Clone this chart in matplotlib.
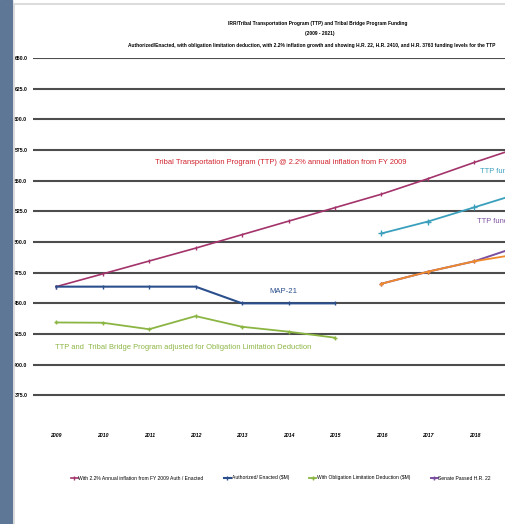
import matplotlib
matplotlib.use('Agg')
import matplotlib.pyplot as plt
from matplotlib.patches import Rectangle

plt.rcParams['font.family'] = ['Liberation Sans', 'DejaVu Sans']

# data ($M)
years = [2009, 2010, 2011, 2012, 2013, 2014, 2015, 2016, 2017, 2018, 2019, 2020, 2021]
inflation = [463.6, 474.0, 484.5, 495.0, 506.0, 517.0, 528.0, 539.0, 551.6, 564.9, 577.5, 590.0, 603.0]
map21_years = [2009, 2010, 2011, 2012, 2013, 2014, 2015]
enacted = [463.6, 463.6, 463.6, 463.6, 450.0, 450.0, 450.0]
oblim = [434.4, 434.2, 428.9, 439.6, 430.9, 426.9, 422.0]
new_years = [2016, 2017, 2018, 2019, 2020, 2021]
hr2410 = [507.0, 516.7, 528.3, 540.0, 551.0, 562.0]
senate_hr22 = [466.0, 475.8, 484.3, 497.0, 509.0, 521.0]
house_hr3763 = [466.0, 475.8, 484.3, 490.5, 497.0, 504.0]
yticks = [375, 400, 425, 450, 475, 500, 525, 550, 575, 600, 625, 650]

fig = plt.figure(figsize=(5.05, 5.24), dpi=100)
fig.patch.set_facecolor('white')

# dark strip on the left and the light chart-area border
fig.patches.append(Rectangle((0, 0), 12/505, 1, transform=fig.transFigure, color='#5f7797', zorder=0))
fig.patches.append(Rectangle((13.5/505, -0.1), 2, 1 - 4/524 + 0.1, transform=fig.transFigure,
                             fill=False, edgecolor='#d6d6d6', lw=1.2, zorder=0))

ax = fig.add_axes([33/505, 0.187, 604/505, 0.7023])
ax.set_xlim(2008.5, 2021.5)
ax.set_ylim(350, 650)
for s in ax.spines.values():
    s.set_visible(False)

for v in yticks:
    ax.axhline(v, color='#4d4d4d', lw=1.5, zorder=1)

ax.plot(years, inflation, color='#a3336b', lw=1.2, marker='|', ms=3, label='With 2.2% Annual inflation from FY 2009 Auth / Enacted', zorder=3)
ax.plot(map21_years, enacted, color='#2b4f8c', lw=1.5, marker='|', ms=3, label='Authorized/ Enacted ($M)', zorder=3)
ax.plot(map21_years, oblim, color='#8bb543', lw=1.3, marker='+', ms=3, label='With Obligation Limitation Deduction ($M)', zorder=3)
ax.plot(new_years, hr2410, color='#3a9fbd', lw=1.3, marker='+', ms=4, label='House Passed H.R. 2410', zorder=3)
ax.plot(new_years, senate_hr22, color='#7b4f9f', lw=1.4, marker='+', ms=3, label='Senate Passed H.R. 22', zorder=3)
ax.plot(new_years, house_hr3763, color='#f0892a', lw=1.3, marker='+', ms=3, label='House Passed H.R. 3763', zorder=4)

ax.set_xticks(years)
ax.set_xticklabels([str(y) for y in years], fontsize=3.7, fontweight='bold', style='italic')
ax.set_yticks(yticks)
ax.set_yticklabels([f"{v:.1f}" for v in yticks], fontsize=3.7, fontweight='bold')
ax.tick_params(axis='both', length=0)
ax.tick_params(axis='y', pad=4)
ax.tick_params(axis='x', pad=5)

ax.text(2011.13, 564.7, 'Tribal Transportation Program (TTP) @ 2.2% annual inflation from FY 2009',
        color='#d0202a', fontsize=5.4, va='center')
ax.text(2013.88, 460, 'MAP-21', color='#2b4f8c', fontsize=5.6, va='center', ha='center')
ax.text(2008.98, 413.6, 'TTP and  Tribal Bridge Program adjusted for Obligation Limitation Deduction',
        color='#8bb543', fontsize=5.4, va='center')
ax.text(2018.12, 557.4, 'TTP funding - H.R. 2410', color='#3a9fbd', fontsize=5.4, va='center')
ax.text(2018.05, 516.7, 'TTP funding - Senate H.R. 22', color='#7b4f9f', fontsize=5.4, va='center')

fig.text(318/505, 1 - 23/524, 'IRR/Tribal Transportation Program (TTP) and Tribal Bridge Program Funding',
         ha='center', va='center', fontsize=3.5, fontweight='bold')
fig.text(320/505, 1 - 34/524, '(2009 - 2021)', ha='center', va='center', fontsize=3.5, fontweight='bold')
fig.text(128/505, 1 - 45/524, 'Authorized/Enacted, with obligation limitation deduction, with 2.2% inflation growth and showing '
         'H.R. 22, H.R. 2410, and H.R. 3763 funding levels for the TTP',
         ha='left', va='center', fontsize=3.5, fontweight='bold')

handles, labels = ax.get_legend_handles_labels()
order = [0, 1, 2, 4, 5, 3]
fig.legend([handles[i] for i in order], [labels[i] for i in order], loc='center left',
           bbox_to_anchor=(66/505, 1 - 478/524), ncol=6, frameon=False, fontsize=3.6,
           handlelength=1.4, handletextpad=0.2, columnspacing=4.0, markerscale=1.0)

fig.savefig('out.png', dpi=100)
